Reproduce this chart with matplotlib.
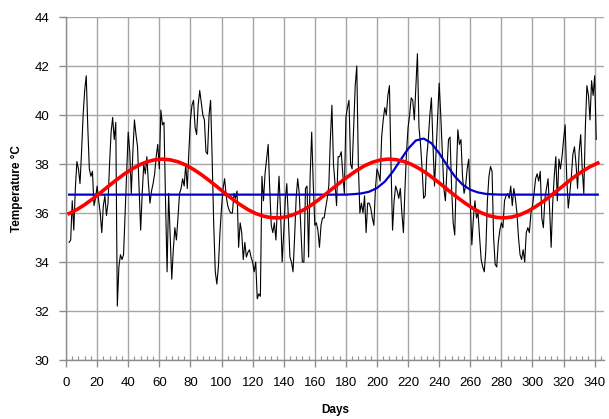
#!/usr/bin/env python3
# -*- coding: UTF-8 -*-
import matplotlib

matplotlib.use('Agg')
import matplotlib.pyplot as plt
from matplotlib.ticker import MultipleLocator

# daily measured temperature, days 2..341
start_day = 2
temps = [
    34.8, 34.9, 36.5, 35.3, 37.0, 38.1, 37.8, 37.2, 38.5, 40.0,
    41.0, 41.6, 39.5, 37.8, 37.5, 37.7, 36.3, 36.6, 37.1, 36.5,
    36.0, 35.2, 36.3, 36.7, 35.9, 36.4, 38.0, 39.3,
    39.9, 39.0, 39.7, 32.2, 33.8, 34.3, 34.1, 34.3, 36.0, 37.8,
    39.3, 38.5, 36.8, 38.5, 39.8, 39.2, 38.7, 37.0, 35.3, 36.8,
    38.0, 37.6, 38.3, 37.2, 36.4, 36.9, 37.2, 37.6, 38.3, 38.8, 37.8,
    40.2, 39.6, 39.7, 36.5, 33.6, 36.8, 35.0, 33.3, 34.5, 35.4,
    34.9, 35.8, 36.8, 37.0, 37.4, 37.1, 38.0, 37.0, 38.5, 39.8,
    40.4, 40.6, 39.5, 39.2, 40.4, 41.0, 40.5, 40.0, 39.8, 38.5,
    38.4, 40.0, 40.6, 38.2, 35.5, 33.6, 33.1, 33.8, 35.2, 36.2,
    37.0, 37.4, 36.7, 36.3, 36.1, 36.0, 36.0, 36.8, 36.6, 36.9,
    34.6, 35.6, 35.2, 34.1, 34.8, 34.2, 34.4, 34.5, 34.2, 34.0, 33.6,
    34.0, 32.5, 32.7, 32.6, 37.5, 36.5, 37.6, 38.2, 38.8, 37.0,
    35.5, 35.2, 35.6, 34.9, 36.3, 37.5, 36.0, 34.0, 35.2, 36.5,
    37.2, 35.8, 34.2, 34.0, 33.6, 35.0, 36.6, 37.4, 36.8, 35.4, 34.0,
    34.0, 37.0, 37.1, 34.2, 37.5, 39.3, 37.2, 35.5, 35.6, 35.3,
    34.6, 35.5, 35.8, 35.8, 36.2, 36.6, 37.1, 39.0, 40.4, 38.0,
    37.2, 36.3, 38.3, 38.3, 38.5, 37.6, 36.8, 39.9, 40.3, 40.6, 38.0,
    37.8, 39.5, 41.2, 42.0, 38.0, 36.0, 36.4, 36.0, 36.7, 35.2,
    36.4, 36.4, 36.2, 35.8, 35.5, 37.0, 37.8, 37.6, 37.3, 39.1,
    39.8, 40.3, 40.0, 40.8, 41.2, 38.0, 35.3, 36.5, 37.1, 36.9, 36.6,
    37.0, 36.0, 35.2, 37.0, 38.5, 39.5, 40.0, 40.7, 40.6, 39.8,
    41.2, 42.5, 39.5, 38.8, 37.8, 36.6, 36.7, 38.3, 39.0, 40.0,
    40.7, 38.8, 37.1, 38.5, 40.0, 41.3, 40.0, 38.5, 37.0, 36.5, 37.8,
    39.0, 39.1, 37.0, 35.6, 35.1, 37.5, 39.4, 38.8, 39.0, 37.5,
    36.8, 37.1, 37.8, 38.2, 36.5, 34.7, 35.8, 36.5, 35.8, 36.0,
    35.0, 34.1, 33.8, 33.6, 34.5, 36.5, 37.5, 37.9, 37.7, 35.0,
    33.9, 33.8, 34.8, 35.3, 35.6, 35.4, 36.5, 36.7, 36.8, 36.6,
    37.1, 36.3, 37.0, 36.6, 36.0, 35.0, 34.3, 34.1, 34.5, 34.0,
    35.2, 35.4, 35.2, 36.0, 36.3, 36.8, 37.4, 37.6, 37.3, 37.7, 35.8,
    35.4, 36.6, 37.0, 37.4, 36.2, 34.6, 36.4, 37.5, 38.3, 36.5,
    38.2, 37.8, 38.3, 39.0, 39.6, 37.5, 36.2, 36.8, 37.5, 38.4,
    38.7, 38.0, 37.0, 38.5, 39.2, 37.8, 36.8, 39.5, 41.2, 40.8,
    39.8, 41.4, 40.8, 41.6, 39.0,
]
days = list(range(start_day, start_day + len(temps)))

# seasonal fit (red), read every 5 days
fit_days = list(range(2, 343, 5))
fit_temps = [
    35.98, 36.14, 36.34, 36.57, 36.82, 37.08, 37.33, 37.57, 37.78, 37.96,
    38.09, 38.17, 38.20, 38.17, 38.09, 37.96, 37.78, 37.57, 37.33, 37.08,
    36.82, 36.57, 36.34, 36.14, 35.98, 35.87, 35.81, 35.80, 35.85, 35.95,
    36.10, 36.29, 36.52, 36.77, 37.03, 37.28, 37.52, 37.74, 37.93, 38.07,
    38.16, 38.20, 38.18, 38.11, 37.99, 37.82, 37.62, 37.38, 37.13, 36.87,
    36.62, 36.39, 36.18, 36.01, 35.89, 35.82, 35.80, 35.84, 35.93, 36.07,
    36.26, 36.47, 36.72, 36.97, 37.23, 37.48, 37.70, 37.89, 38.04,
]

# baseline with peak (blue)
peak_days = [2, 180, 185, 190, 195, 200, 205, 210, 215, 220, 225, 230,
             235, 240, 245, 250, 255, 260, 265, 270, 275, 280, 342]
peak_temps = [36.75, 36.75, 36.77, 36.80, 36.87, 37.02, 37.28, 37.67,
              38.15, 38.62, 38.96, 39.04, 38.85, 38.44, 37.95, 37.50,
              37.16, 36.95, 36.84, 36.78, 36.76, 36.75, 36.75]

plt.rcParams['font.family'] = ['Liberation Sans', 'DejaVu Sans']

fig = plt.figure(figsize=(6.09, 4.19), dpi=100)
ax = fig.add_axes([0.1084, 0.1408, 0.8834, 0.8186])

ax.plot(days, temps, color='black', linewidth=0.8, zorder=3)
ax.plot(peak_days, peak_temps, color='#0000c8', linewidth=1.6, zorder=4)
ax.plot(fit_days, fit_temps, color='#ff0000', linewidth=2.6, zorder=5)

ax.set_xlim(0, 346)
ax.set_ylim(30, 44)
ax.xaxis.set_major_locator(MultipleLocator(20))
ax.xaxis.set_minor_locator(MultipleLocator(4))
ax.yaxis.set_major_locator(MultipleLocator(2))

ax.grid(True, which='major', color='#a6a6a6', linewidth=1.0, zorder=0)
ax.set_axisbelow(True)

for side in ['top', 'right']:
    ax.spines[side].set_visible(False)
for side in ['left', 'bottom']:
    ax.spines[side].set_color('#8c8c8c')
    ax.spines[side].set_linewidth(1.0)

ax.tick_params(axis='both', which='major', length=5, width=1.0,
               color='#8c8c8c', labelsize=9.5, direction='out')
ax.tick_params(axis='x', which='major', pad=7)
ax.tick_params(axis='y', which='major', pad=7)
ax.tick_params(axis='x', which='minor', length=3, width=0.8,
               color='#8c8c8c', direction='in')

ax.set_xlabel('Days', fontsize=8.5, fontweight='bold', labelpad=11)
ax.set_ylabel('Temperature °C', fontsize=8.5, fontweight='bold', labelpad=8)

fig.savefig('out.png', dpi=100)
plt.close('all')
